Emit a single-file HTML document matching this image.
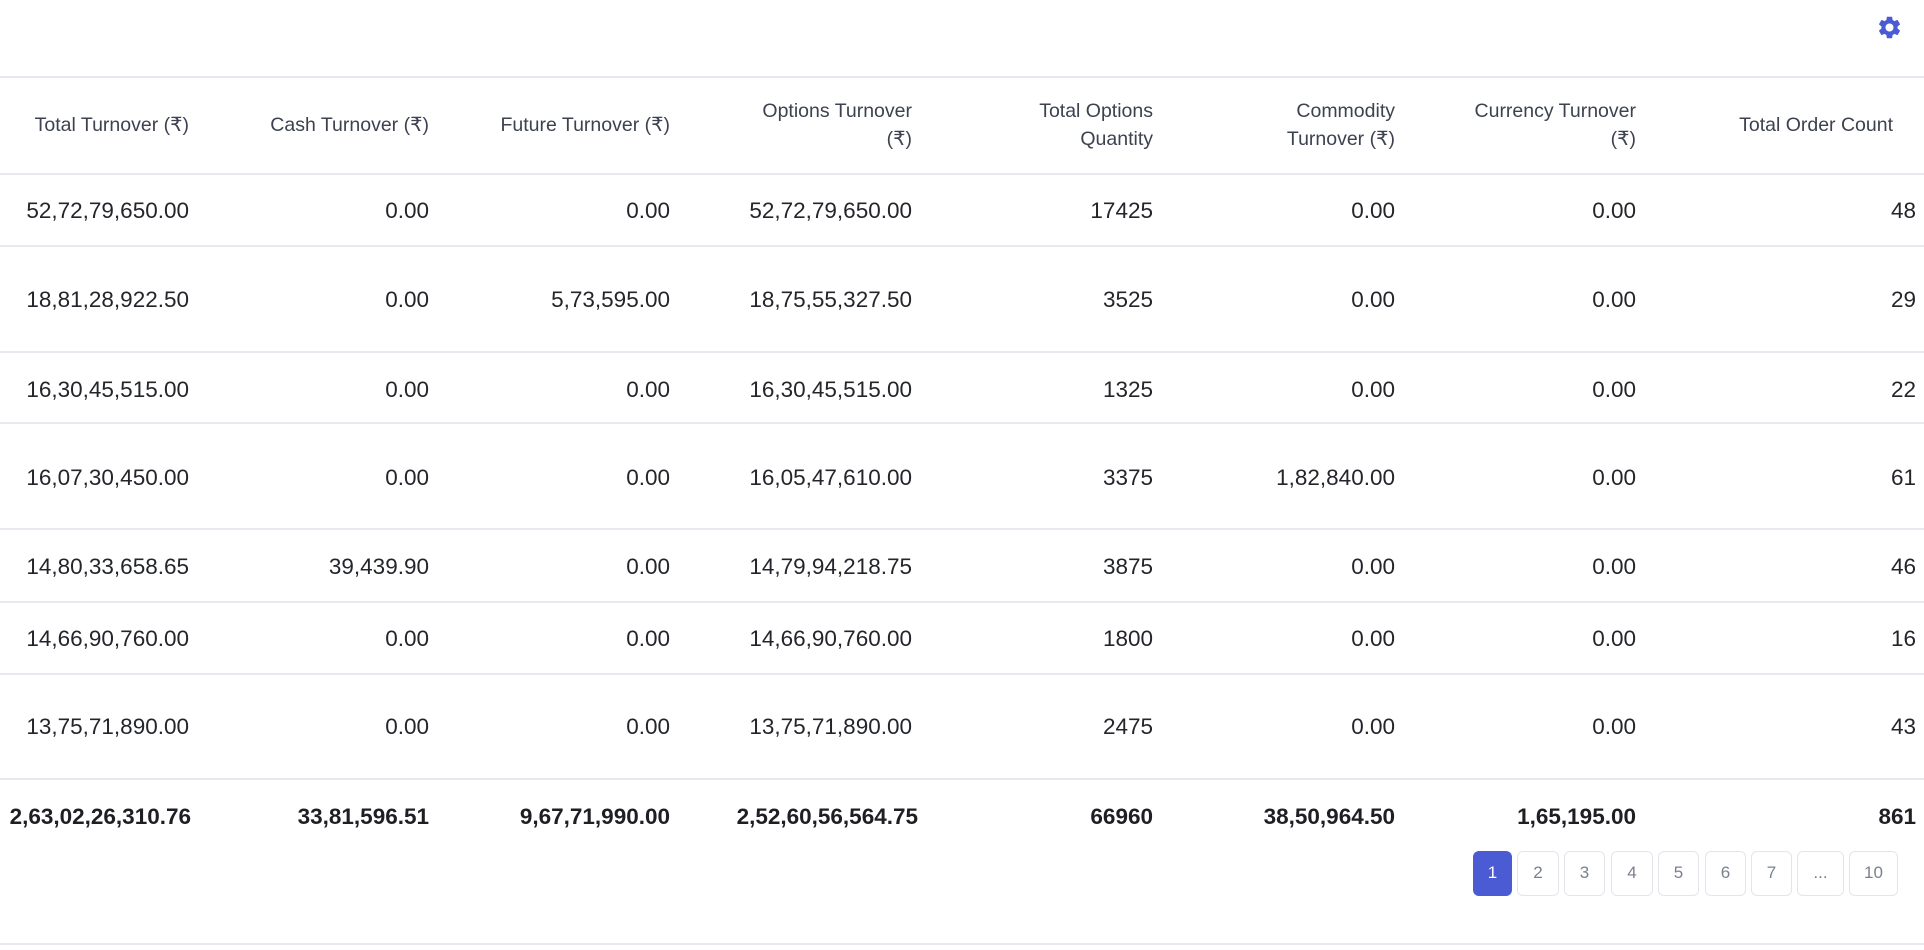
<!DOCTYPE html>
<html><head><meta charset="utf-8">
<style>
*{margin:0;padding:0;box-sizing:border-box}
body{width:1924px;height:950px;background:#fff;position:relative;overflow:hidden;font-family:"Liberation Sans","DejaVu Sans",sans-serif;color:#222}
.l{position:absolute;left:0;width:1924px;height:2px;background:#e8e9ee}
.c{position:absolute;line-height:24px;height:24px;text-align:right;white-space:nowrap;font-size:22.5px;color:#23252b}
.h{position:absolute;line-height:28px;text-align:right;white-space:nowrap;font-size:19.5px;color:#3d4250}
.b{font-weight:bold;color:#1e1f24;font-size:22.5px}
.p{position:absolute;top:851px;height:45px;border:1.5px solid #e3e5ea;border-radius:6px;font-size:17px;color:#7a8090;text-align:center;line-height:42px}
.p.a{background:#4a5bd4;border-color:#4a5bd4;color:#fff}
</style></head><body>
<svg style="position:absolute;left:1876px;top:14px" width="27" height="27" viewBox="0 0 24 24"><path fill="#4a5bd4" d="M19.14 12.94c.04-.3.06-.61.06-.94 0-.32-.02-.64-.07-.94l2.030-1.58a.49.49 0 0 0 .12-.61l-1.92-3.32a.49.49 0 0 0-.59-.22l-2.39.96c-.5-.38-1.03-.7-1.62-.94l-.36-2.54a.48.48 0 0 0-.48-.41h-3.84c-.24 0-.43.17-.47.41l-.36 2.54c-.59.24-1.130.57-1.62.94l-2.39-.96a.48.48 0 0 0-.59.22L2.74 8.87c-.12.21-.08.47.12.61l2.03 1.58c-.05.3-.09.63-.09.94s.02.64.07.94l-2.03 1.58a.49.49 0 0 0-.12.61l1.92 3.32c.12.22.37.29.59.22l2.39-.96c.5.38 1.03.7 1.62.94l.36 2.54c.05.24.24.41.48.41h3.84c.24 0 .44-.17.47-.41l.36-2.54c.59-.24 1.13-.56 1.62-.94l2.39.96c.22.08.47 0 .59-.22l1.92-3.32c.12-.22.07-.47-.12-.61l-2.01-1.58zM12 15.6A3.6 3.6 0 1 1 12 8.4a3.6 3.6 0 0 1 0 7.2z"/></svg>
<div class="l" style="top:76px"></div>
<div class="l" style="top:173px"></div>
<div class="l" style="top:245px"></div>
<div class="l" style="top:351px"></div>
<div class="l" style="top:422px"></div>
<div class="l" style="top:528px"></div>
<div class="l" style="top:601px"></div>
<div class="l" style="top:673px"></div>
<div class="l" style="top:778px"></div>
<div class="l" style="top:943px"></div>

<div class="h" style="right:1735px;top:111px">Total Turnover (₹)</div>
<div class="h" style="right:1495px;top:111px">Cash Turnover (₹)</div>
<div class="h" style="right:1254px;top:111px">Future Turnover (₹)</div>
<div class="h" style="right:1012px;top:97px">Options Turnover<br>(₹)</div>
<div class="h" style="right:771px;top:97px">Total Options<br>Quantity</div>
<div class="h" style="right:529px;top:97px">Commodity<br>Turnover (₹)</div>
<div class="h" style="right:288px;top:97px">Currency Turnover<br>(₹)</div>
<div class="h" style="right:31px;top:111px">Total Order Count</div>

<div class="c" style="right:1735px;top:199px">52,72,79,650.00</div><div class="c" style="right:1495px;top:199px">0.00</div><div class="c" style="right:1254px;top:199px">0.00</div><div class="c" style="right:1012px;top:199px">52,72,79,650.00</div><div class="c" style="right:771px;top:199px">17425</div><div class="c" style="right:529px;top:199px">0.00</div><div class="c" style="right:288px;top:199px">0.00</div><div class="c" style="right:8px;top:199px">48</div>
<div class="c" style="right:1735px;top:288px">18,81,28,922.50</div><div class="c" style="right:1495px;top:288px">0.00</div><div class="c" style="right:1254px;top:288px">5,73,595.00</div><div class="c" style="right:1012px;top:288px">18,75,55,327.50</div><div class="c" style="right:771px;top:288px">3525</div><div class="c" style="right:529px;top:288px">0.00</div><div class="c" style="right:288px;top:288px">0.00</div><div class="c" style="right:8px;top:288px">29</div>
<div class="c" style="right:1735px;top:378px">16,30,45,515.00</div><div class="c" style="right:1495px;top:378px">0.00</div><div class="c" style="right:1254px;top:378px">0.00</div><div class="c" style="right:1012px;top:378px">16,30,45,515.00</div><div class="c" style="right:771px;top:378px">1325</div><div class="c" style="right:529px;top:378px">0.00</div><div class="c" style="right:288px;top:378px">0.00</div><div class="c" style="right:8px;top:378px">22</div>
<div class="c" style="right:1735px;top:466px">16,07,30,450.00</div><div class="c" style="right:1495px;top:466px">0.00</div><div class="c" style="right:1254px;top:466px">0.00</div><div class="c" style="right:1012px;top:466px">16,05,47,610.00</div><div class="c" style="right:771px;top:466px">3375</div><div class="c" style="right:529px;top:466px">1,82,840.00</div><div class="c" style="right:288px;top:466px">0.00</div><div class="c" style="right:8px;top:466px">61</div>
<div class="c" style="right:1735px;top:555px">14,80,33,658.65</div><div class="c" style="right:1495px;top:555px">39,439.90</div><div class="c" style="right:1254px;top:555px">0.00</div><div class="c" style="right:1012px;top:555px">14,79,94,218.75</div><div class="c" style="right:771px;top:555px">3875</div><div class="c" style="right:529px;top:555px">0.00</div><div class="c" style="right:288px;top:555px">0.00</div><div class="c" style="right:8px;top:555px">46</div>
<div class="c" style="right:1735px;top:627px">14,66,90,760.00</div><div class="c" style="right:1495px;top:627px">0.00</div><div class="c" style="right:1254px;top:627px">0.00</div><div class="c" style="right:1012px;top:627px">14,66,90,760.00</div><div class="c" style="right:771px;top:627px">1800</div><div class="c" style="right:529px;top:627px">0.00</div><div class="c" style="right:288px;top:627px">0.00</div><div class="c" style="right:8px;top:627px">16</div>
<div class="c" style="right:1735px;top:715px">13,75,71,890.00</div><div class="c" style="right:1495px;top:715px">0.00</div><div class="c" style="right:1254px;top:715px">0.00</div><div class="c" style="right:1012px;top:715px">13,75,71,890.00</div><div class="c" style="right:771px;top:715px">2475</div><div class="c" style="right:529px;top:715px">0.00</div><div class="c" style="right:288px;top:715px">0.00</div><div class="c" style="right:8px;top:715px">43</div>
<div class="c b" style="right:1733px;top:805px">2,63,02,26,310.76</div><div class="c b" style="right:1495px;top:805px">33,81,596.51</div><div class="c b" style="right:1254px;top:805px">9,67,71,990.00</div><div class="c b" style="right:1006px;top:805px">2,52,60,56,564.75</div><div class="c b" style="right:771px;top:805px">66960</div><div class="c b" style="right:529px;top:805px">38,50,964.50</div><div class="c b" style="right:288px;top:805px">1,65,195.00</div><div class="c b" style="right:8px;top:805px">861</div>

<div class="p a" style="left:1473px;width:39px">1</div>
<div class="p" style="left:1517px;width:42px">2</div>
<div class="p" style="left:1564px;width:41px">3</div>
<div class="p" style="left:1611px;width:42px">4</div>
<div class="p" style="left:1658px;width:41px">5</div>
<div class="p" style="left:1705px;width:41px">6</div>
<div class="p" style="left:1751px;width:41px">7</div>
<div class="p" style="left:1797px;width:47px">...</div>
<div class="p" style="left:1849px;width:49px">10</div>
</body></html>
